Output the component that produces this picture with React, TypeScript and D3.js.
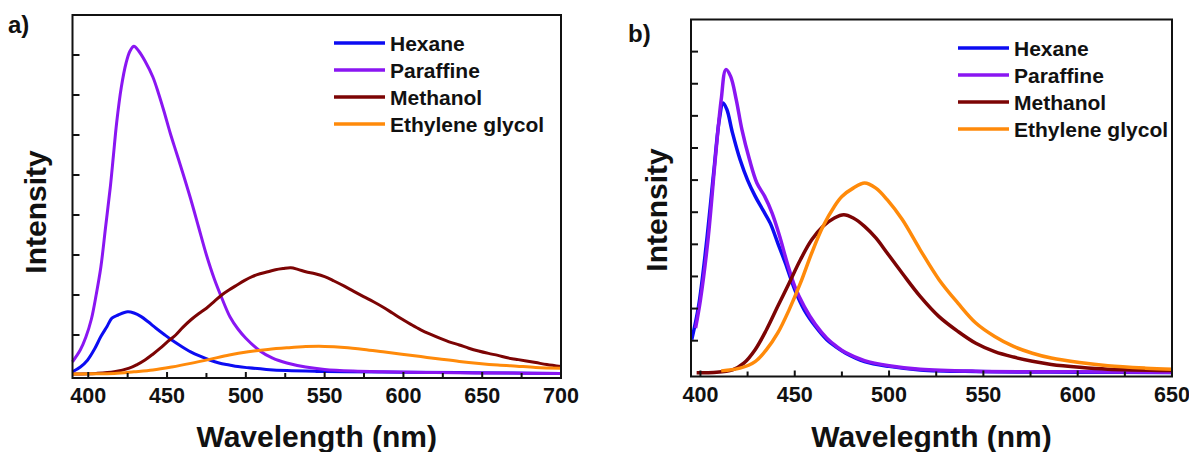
import React from "react";
import * as d3 from "d3";

// ---------- Panel a data (wavelength nm, intensity a.u.) ----------
const hexaneA: [number, number][] = [
  [390, 0.08], [395, 0.2], [399.5, 0.37], [404, 0.65], [408, 0.96], [412, 1.22], [415, 1.42], [419, 1.5],
  [425, 1.58], [429, 1.55], [433.6, 1.46], [438, 1.33], [443, 1.17], [448, 1.02], [453, 0.875], [459, 0.72],
  [465, 0.58], [471, 0.47], [477, 0.375], [483, 0.3], [489.5, 0.25], [495, 0.21], [501.7, 0.18], [513, 0.14],
  [526, 0.11], [545, 0.09], [562.5, 0.08], [600, 0.07], [635.5, 0.06], [670, 0.05], [700, 0.04],
];
const paraffineA: [number, number][] = [
  [390, 0.33], [395, 0.63], [398.5, 0.95], [402, 1.4], [405, 2.0], [408, 2.7], [411, 3.7], [414, 4.7],
  [416, 5.5], [418, 6.3], [421, 7.2], [424, 7.8], [426.5, 8.1], [429, 8.22], [432, 8.1], [436, 7.85],
  [441, 7.45], [444.5, 7.05], [448, 6.6], [452, 6.05], [456, 5.55], [460, 5.05], [465, 4.4], [470, 3.7],
  [475, 3.0], [480, 2.4], [485, 1.9], [490, 1.45], [495, 1.15], [500, 0.92], [509, 0.6], [517, 0.42],
  [526, 0.3], [538, 0.2], [550, 0.14], [568, 0.1], [587, 0.08], [620, 0.06], [660, 0.05], [700, 0.04],
];
const methanolA: [number, number][] = [
  [390, 0.025], [405, 0.04], [416.5, 0.08], [426, 0.17], [431, 0.26], [436, 0.375], [441, 0.52], [445.7, 0.67],
  [450.5, 0.84], [455.5, 1.0], [460, 1.19], [465, 1.375], [470, 1.53], [475, 1.67], [480, 1.84], [484.7, 2.0],
  [489.5, 2.13], [494.4, 2.25], [499, 2.36], [504, 2.46], [509, 2.53], [514, 2.58], [518.8, 2.63], [523.6, 2.66],
  [528.5, 2.68], [533, 2.64], [538, 2.58], [544, 2.53], [550, 2.46], [556, 2.35], [562.5, 2.22], [568.5, 2.09],
  [574.7, 1.96], [581, 1.83], [586.9, 1.7], [593, 1.55], [599, 1.4], [605, 1.26], [611, 1.13], [617, 1.02],
  [623, 0.92], [629, 0.83], [635.5, 0.75], [641.5, 0.67], [647.7, 0.6], [654, 0.54], [660, 0.49], [666, 0.43],
  [672, 0.39], [678, 0.35], [684, 0.31], [691, 0.26], [700, 0.21],
];
const glycolA: [number, number][] = [
  [390, 0.025], [400, 0.03], [416.5, 0.04], [429, 0.08], [441, 0.125], [453, 0.2], [465, 0.29], [477, 0.39],
  [489.5, 0.5], [501.5, 0.58], [514, 0.64], [526, 0.68], [538, 0.71], [550, 0.715], [562.5, 0.69], [575, 0.64],
  [587, 0.58], [599, 0.52], [611, 0.46], [623, 0.4], [635.5, 0.34], [648, 0.29], [660, 0.25], [672, 0.22],
  [684, 0.19], [700, 0.17],
];

// ---------- Panel b data ----------
const hexaneB: [number, number][] = [
  [395.4, 1.03], [399, 2.07], [403, 3.94], [407, 6.22], [410, 7.88], [412, 8.4], [414, 8.2], [417, 7.47],
  [421, 6.64], [425, 6.0], [429, 5.5], [433, 5.08], [437, 4.66], [441, 4.04], [445, 3.42], [450, 2.59],
  [455, 1.96], [461, 1.44], [467, 1.03], [472, 0.8], [477, 0.61], [487, 0.35], [500, 0.2], [516.5, 0.09],
  [546, 0.04], [600, 0.02], [650, 0.01],
];
const paraffineB: [number, number][] = [
  [397.4, 1.39], [400, 2.27], [404, 4.14], [408, 6.74], [411, 8.5], [413.5, 9.44], [416, 9.23], [419, 8.5],
  [422, 7.57], [426, 6.64], [430, 5.9], [434, 5.5], [438, 4.97], [442, 4.25], [446, 3.42], [450, 2.69],
  [455, 2.07], [461, 1.5], [467, 1.08], [472, 0.83], [477, 0.63], [487, 0.38], [500, 0.22], [516.5, 0.11],
  [546, 0.05], [600, 0.03], [650, 0.02],
];
const methanolB: [number, number][] = [
  [398, 0.0], [407, 0.01], [417, 0.09], [423, 0.3], [429, 0.72], [435, 1.34], [441, 2.07], [447, 2.79],
  [453, 3.52], [459, 4.14], [465, 4.56], [471, 4.82], [476, 4.92], [481, 4.82], [487, 4.56], [493, 4.2],
  [499, 3.73], [507, 3.1], [516.5, 2.38], [526.5, 1.75], [536.5, 1.29], [546, 0.92], [556, 0.66], [566, 0.49],
  [576, 0.36], [586, 0.26], [601, 0.17], [616, 0.11], [650, 0.07],
];
const glycolB: [number, number][] = [
  [411, 0.06], [421, 0.145], [429, 0.35], [435, 0.72], [441, 1.24], [447, 1.96], [453, 2.79], [459, 3.73],
  [465, 4.56], [471, 5.18], [475, 5.49], [481, 5.75], [487, 5.91], [493, 5.75], [499, 5.39], [507, 4.77],
  [516.5, 3.83], [526.5, 2.9], [536.5, 2.17], [546, 1.55], [556, 1.13], [566, 0.82], [576, 0.61], [586, 0.46],
  [601, 0.32], [616, 0.22], [636, 0.145], [650, 0.11],
];

const seriesNames = ["Hexane", "Paraffine", "Methanol", "Ethylene glycol"];
const seriesColors = ["#0c0cf2", "#8a16f2", "#7c0404", "#ff8a0a"];
const xTicksA = [400, 450, 500, 550, 600, 650, 700];
const xTicksB = [400, 450, 500, 550, 600, 650];

const FONT = "'Liberation Sans', Arial, sans-serif";

type PanelProps = {
  label: string;
  xLabel: string;
  series: [number, number][][];
  xDomain: [number, number];
  yDomain: [number, number];
  box: { l: number; r: number; t: number; b: number };
  xTicks: number[];
  yTickCount: number;
  legend: { x: number; y: number; dy: number };
  labelPos: { x: number; y: number };
  yTitle: { x: number; y: number };
  strokeW: number;
};

function Panel(p: PanelProps) {
  const x = d3.scaleLinear().domain(p.xDomain).range([p.box.l, p.box.r]);
  const y = d3.scaleLinear().domain(p.yDomain).range([p.box.b, p.box.t]);
  const line = d3
    .line<[number, number]>()
    .x((d) => x(d[0]))
    .y((d) => y(d[1]))
    .curve(d3.curveCatmullRom.alpha(0.5));
  const minor: number[] = [];
  for (let v = p.xTicks[0] - 25; v <= p.xDomain[1]; v += 25) {
    if (v >= p.xDomain[0] && !p.xTicks.includes(v)) minor.push(v);
  }
  const yTicks = d3.range(1, p.yTickCount + 1);
  const midX = (p.box.l + p.box.r) / 2;
  return (
    <g>
      <defs>
        <clipPath id={"clip" + p.label}>
          <rect x={p.box.l} y={p.box.t} width={p.box.r - p.box.l} height={p.box.b - p.box.t} />
        </clipPath>
      </defs>
      <g clipPath={`url(#clip${p.label})`}>
        {p.series.map((s, i) => (
          <path key={i} d={line(s) || ""} fill="none" stroke={seriesColors[i]} strokeWidth={p.strokeW} strokeLinejoin="round" />
        ))}
      </g>
      <rect x={p.box.l} y={p.box.t} width={p.box.r - p.box.l} height={p.box.b - p.box.t} fill="none" stroke="#111" strokeWidth={2} />
      {p.xTicks.map((v) => (
        <g key={v}>
          <line x1={x(v)} x2={x(v)} y1={p.box.b} y2={p.box.b - 6} stroke="#111" strokeWidth={2} />
          <text x={x(v)} y={p.box.b + 25} textAnchor="middle" fontFamily={FONT} fontWeight="bold" fontSize={21.5} fill="#111">
            {v}
          </text>
        </g>
      ))}
      {minor.map((v) => (
        <line key={"m" + v} x1={x(v)} x2={x(v)} y1={p.box.b} y2={p.box.b - 5} stroke="#111" strokeWidth={2} />
      ))}
      {yTicks.map((v) => (
        <line key={"y" + v} x1={p.box.l} x2={p.box.l + 7} y1={y(v)} y2={y(v)} stroke="#111" strokeWidth={2} />
      ))}
      {seriesNames.map((n, i) => (
        <g key={n}>
          <line
            x1={p.legend.x}
            x2={p.legend.x + 51}
            y1={p.legend.y + i * p.legend.dy}
            y2={p.legend.y + i * p.legend.dy}
            stroke={seriesColors[i]}
            strokeWidth={3.5}
          />
          <text
            x={p.legend.x + 56}
            y={p.legend.y + i * p.legend.dy + 7.5}
            fontFamily={FONT}
            fontWeight="bold"
            fontSize={21}
            fill="#111"
          >
            {n}
          </text>
        </g>
      ))}
      <text x={p.labelPos.x} y={p.labelPos.y} fontFamily={FONT} fontWeight="bold" fontSize={24} fill="#111">
        {p.label}
      </text>
      <text
        transform={`translate(${p.yTitle.x},${p.yTitle.y}) rotate(-90)`}
        textAnchor="middle"
        fontFamily={FONT}
        fontWeight="bold"
        fontSize={30}
        fill="#111"
      >
        Intensity
      </text>
      <text x={midX} y={447} textAnchor="middle" fontFamily={FONT} fontWeight="bold" fontSize={30} fill="#111">
        {p.xLabel}
      </text>
    </g>
  );
}

export default function App() {
  return (
    <svg width={1189} height={452} style={{ position: "absolute", left: 0, top: 0, background: "#fff" }}>
      <rect width={1189} height={452} fill="#fff" />
      <Panel
        label="a)"
        xLabel="Wavelength (nm)"
        series={[hexaneA, paraffineA, methanolA, glycolA]}
        xDomain={[390, 700]}
        yDomain={[-0.075, 9.0]}
        box={{ l: 72.5, r: 561, t: 15, b: 378 }}
        xTicks={xTicksA}
        yTickCount={8}
        legend={{ x: 334, y: 43, dy: 27 }}
        labelPos={{ x: 8, y: 33 }}
        yTitle={{ x: 46, y: 212 }}
        strokeW={3}
      />
      <Panel
        label="b)"
        xLabel="Wavelegnth (nm)"
        series={[hexaneB, paraffineB, methanolB, glycolB]}
        xDomain={[395, 650]}
        yDomain={[-0.115, 11.0]}
        box={{ l: 691, r: 1172, t: 19.5, b: 376.5 }}
        xTicks={xTicksB}
        yTickCount={10}
        legend={{ x: 958, y: 48, dy: 27 }}
        labelPos={{ x: 628, y: 42 }}
        yTitle={{ x: 667, y: 210 }}
        strokeW={3.5}
      />
    </svg>
  );
}
